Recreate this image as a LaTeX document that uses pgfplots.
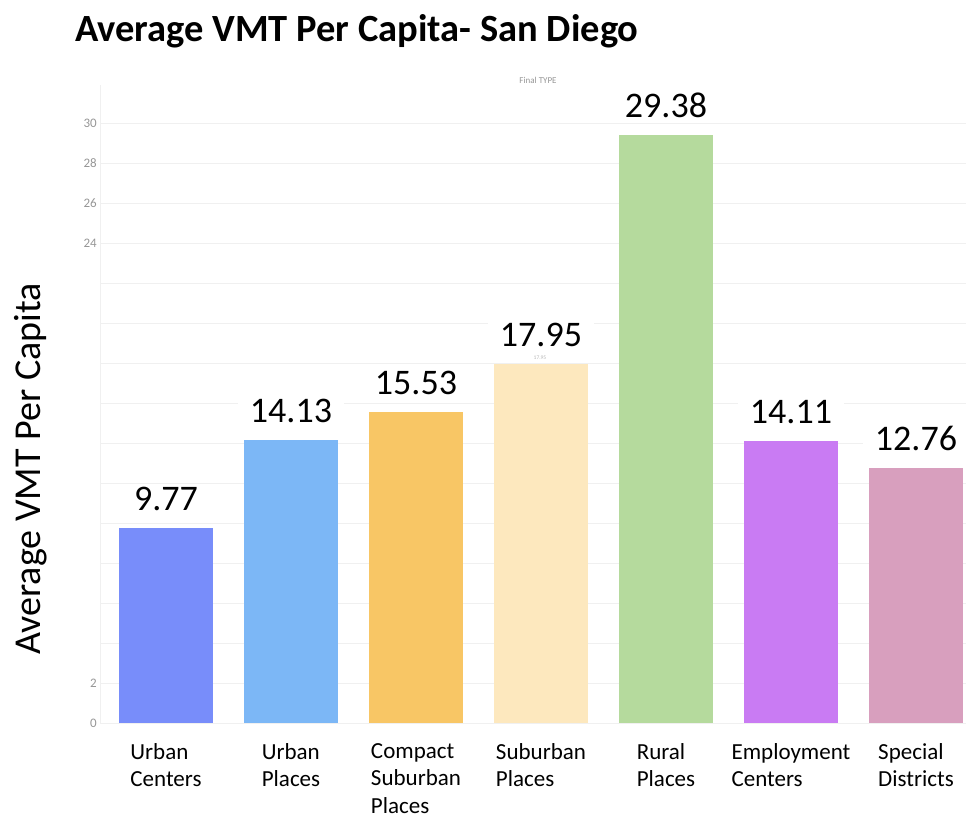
\documentclass[border=0pt]{standalone}
\usepackage{pgfplots}
\pgfplotsset{compat=1.18}
\usepackage{fontspec}
\setmainfont{Carlito}
\definecolor{cUC}{RGB}{120,141,250}
\definecolor{cUP}{RGB}{124,183,246}
\definecolor{cCS}{RGB}{248,198,101}
\definecolor{cSP}{RGB}{253,232,190}
\definecolor{cRP}{RGB}{181,218,157}
\definecolor{cEC}{RGB}{201,123,243}
\definecolor{cSD}{RGB}{216,159,190}
\definecolor{gridc}{RGB}{240,240,240}
\definecolor{tickc}{RGB}{150,150,150}
\begin{document}
\begin{tikzpicture}
\useasboundingbox (0pt,0pt) rectangle (966pt,821pt);
\begin{axis}[
  at={(100pt,98pt)}, anchor=south west,
  scale only axis, width=866pt, height=638pt,
  xmin=-0.528, xmax=6.4, ymin=0, ymax=31.9,
  ybar,
  axis lines*=left,
  axis line style={draw=gridc, line width=0.8pt},
  ymajorgrids, grid style={draw=gridc, line width=0.8pt},
  major tick length=0pt,
  ytick={0,2,...,30},
  yticklabels={0,2,{},{},{},{},{},{},{},{},{},{},24,26,28,30},
  yticklabel style={font=\fontsize{13}{13}\selectfont, text=tickc, anchor=east, inner sep=0pt, xshift=-3pt},
  xtick={0,...,6},
  xticklabels={Urban\\Centers, Urban\\Places, Compact\\Suburban\\Places, Suburban\\Places, Rural\\Places, Employment\\Centers, Special\\Districts},
  xticklabel style={font=\fontsize{23}{27.5}\selectfont, align=left, anchor=north, inner sep=0pt, yshift=-20pt},
  point meta=explicit symbolic,
  nodes near coords=\pgfplotspointmeta,
  every node near coord/.append style={font=\fontsize{36}{36}\selectfont, text=black, fill=white, inner xsep=12pt, inner ysep=3pt, anchor=south, yshift=14pt},
  clip=false,
]
\addplot[fill=cUC, draw=none, bar width=0.752, bar shift=0pt] coordinates {(0,9.77) [9.77]};
\addplot[fill=cUP, draw=none, bar width=0.752, bar shift=0pt] coordinates {(1,14.13) [14.13]};
\addplot[fill=cCS, draw=none, bar width=0.752, bar shift=0pt] coordinates {(2,15.53) [15.53]};
\addplot[fill=cSP, draw=none, bar width=0.752, bar shift=0pt] coordinates {(3,17.95) [17.95]};
\addplot[fill=cRP, draw=none, bar width=0.752, bar shift=0pt] coordinates {(4,29.38) [29.38]};
\addplot[fill=cEC, draw=none, bar width=0.752, bar shift=0pt] coordinates {(5,14.11) [14.11]};
\addplot[fill=cSD, draw=none, bar width=0.752, bar shift=0pt] coordinates {(6,12.76) [12.76]};
\end{axis}
\node[anchor=base west, font=\fontsize{38.5}{38.5}\selectfont\bfseries, inner sep=0pt] at (75pt,779pt) {Average VMT Per Capita- San Diego};
\node[rotate=90, font=\fontsize{38}{38}\selectfont, inner sep=0pt] at (31pt,352pt) {Average VMT Per Capita};
\node[font=\fontsize{9}{9}\selectfont, text=tickc, inner sep=0pt] at (538pt,741pt) {Final TYPE};
\node[font=\fontsize{5.5}{5.5}\selectfont, text=tickc!70, inner sep=0pt] at (540pt,463pt) {17.95};
\end{tikzpicture}
\end{document}
